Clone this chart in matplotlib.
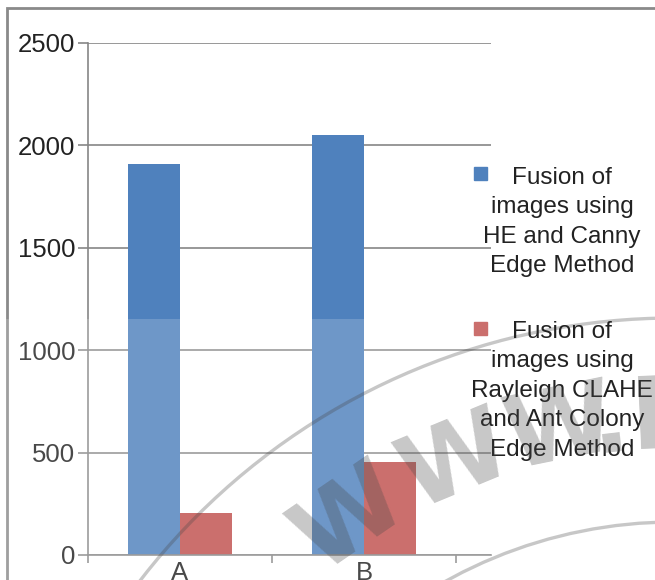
import numpy as np
import matplotlib
matplotlib.use('Agg')
import matplotlib.pyplot as plt
from matplotlib.patches import Rectangle, Circle

plt.rcParams['font.family'] = ['Liberation Sans', 'DejaVu Sans']

# values per image pair
categories = ['A', 'B']
he_canny = [1910, 2050]
rayleigh_ant = [205, 452]
series_names = ['Fusion of\nimages using\nHE and Canny\nEdge Method',
                'Fusion of\nimages using\nRayleigh CLAHE\nand Ant Colony\nEdge Method']
series_colors = ['#4F81BD', '#C0504D']
yticks = [0, 500, 1000, 1500, 2000, 2500]

W, H = 655, 580
fig = plt.figure(figsize=(W / 100, H / 100), dpi=100)

def px(x0, y0, x1, y1):
    # pixel box (top-left origin) -> figure fraction [l, b, w, h]
    return [x0 / W, 1 - y1 / H, (x1 - x0) / W, (y1 - y0) / H]

ax = fig.add_axes(px(88, 43, 491, 555))

x = np.arange(len(categories))
bw = 0.283
ax.bar(x - bw / 2, he_canny, bw, color=series_colors[0], zorder=2)
ax.bar(x + bw / 2, rayleigh_ant, bw, color=series_colors[1], zorder=2)

grid_c = '#868686'
ax.set_ylim(0, 2500)
ax.set_xlim(-0.5, 1.69)
ax.set_yticks(yticks)
ax.yaxis.grid(True, color=grid_c, linewidth=1.2, zorder=0)
ax.set_axisbelow(True)
for s in ['top', 'right']:
    ax.spines[s].set_visible(False)
ax.spines['left'].set_color(grid_c)
ax.spines['bottom'].set_color(grid_c)
ax.spines['left'].set_linewidth(1.2)
ax.spines['bottom'].set_linewidth(1.2)

ax.set_xticks([-0.5, 0.5, 1.5])
ax.set_xticklabels([])
ax.set_xticks(x, minor=True)
ax.set_xticklabels(categories, minor=True)
ax.tick_params(axis='x', which='major', length=6, color=grid_c, width=1.2)
ax.tick_params(axis='x', which='minor', length=0, pad=4, labelsize=18.5, labelcolor='#222222')
ax.tick_params(axis='y', length=7, color=grid_c, width=1.2, pad=2,
               labelsize=18.5, labelcolor='#222222')

# legend, drawn by hand so the squares sit on the first line
leg_boxes = [(474, 167), (474, 322)]
leg_text_y = [167, 321]
for name, c, (sx, sy), ty in zip(series_names, series_colors, leg_boxes, leg_text_y):
    fig.add_artist(Rectangle((sx / W, 1 - (sy + 13) / H), 13 / W, 13 / H,
                             transform=fig.transFigure, color=c))
    fig.text(562 / W, 1 - ty / H, name, ha='center', va='top', multialignment='center',
             fontsize=17.5, color='#222222', linespacing=1.44)

# outer frame of the chart area
fig.add_artist(Rectangle((7 / W, -0.1), 1.2, 1 - 8 / H + 0.1, transform=fig.transFigure,
                         fill=False, edgecolor='#8a8a8a', linewidth=2))

# white haze over the lower part
fig.add_artist(Rectangle((0, 0), 1, 1 - 319 / H, transform=fig.transFigure,
                         color='white', alpha=0.18, linewidth=0))

# stamp rings and letters
cx, cy = 6.74, -4.12
for r in [6.74, 4.70]:
    fig.add_artist(Circle((cx, cy), r, transform=fig.dpi_scale_trans, fill=False,
                          edgecolor='#474747', alpha=0.3, linewidth=2.4))
stamp_chars = ['W', 'W', 'W', '.', 'I']
stamp_angles = [124.5, 112.5, 101.5, 96.5, 92.5]
for ch, a in zip(stamp_chars, stamp_angles):
    t = np.radians(a)
    fig.text(cx + 5.72 * np.cos(t), cy + 5.72 * np.sin(t), ch, transform=fig.dpi_scale_trans,
             rotation=a - 90, rotation_mode='anchor', ha='center', va='center',
             fontsize=72, fontweight='bold', family='DejaVu Sans', color='#474747', alpha=0.3)

fig.savefig('out.png', dpi=100)
